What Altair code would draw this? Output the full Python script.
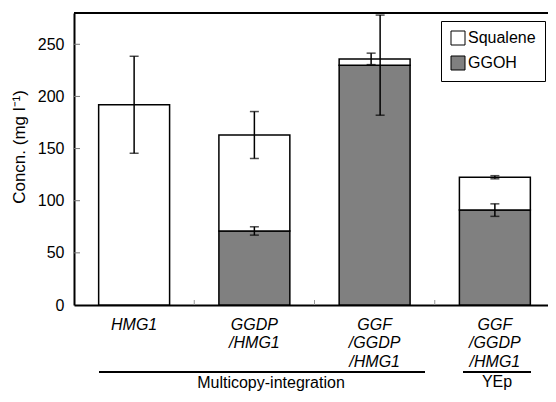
import altair as alt
import pandas as pd

# ---- data ----
categories = ["HMG1", "GGDP/HMG1", "GGF/GGDP/HMG1", "GGF/GGDP/HMG1 (YEp)"]
label_lines = [["HMG1"], ["GGDP", "/HMG1"], ["GGF", "/GGDP", "/HMG1"], ["GGF", "/GGDP", "/HMG1"]]
ggoh = [0, 71, 230, 91]
squalene = [192, 92, 6, 31.5]
total_err = [46.5, 22.5, 5.5, 1.5]
ggoh_err = [0, 4, 48, 6]
y_ticks = [0, 50, 100, 150, 200, 250]
y_title = "Concn. (mg l⁻¹)"
components = ["Squalene", "GGOH"]
colors = ["white", "#808080"]
groups = ["Multicopy-integration", "YEp"]

FONT = "Liberation Sans"

# ---- tables ----
bar_rows = []
for c, g, s in zip(categories, ggoh, squalene):
    if g > 0:
        bar_rows.append({"cat": c, "comp": "GGOH", "y0": 0, "y1": g})
    bar_rows.append({"cat": c, "comp": "Squalene", "y0": g, "y1": g + s})
bars_df = pd.DataFrame(bar_rows)

err_rows = []
for c, g, s, te, ge in zip(categories, ggoh, squalene, total_err, ggoh_err):
    err_rows.append({"cat": c, "kind": "total", "lo": g + s - te, "hi": g + s + te})
    if ge > 0:
        err_rows.append({"cat": c, "kind": "ggoh", "lo": g - ge, "hi": g + ge})
err_df = pd.DataFrame(err_rows)

label_expr = " : ".join(
    f"datum.value == '{c}' ? {lines!r}" for c, lines in zip(categories, label_lines)
) + " : datum.value"

PLOT_W, PLOT_H = 474, 292
x_scale = alt.Scale(domain=categories, paddingInner=0, paddingOuter=0, range=[0, 481])
y_scale = alt.Scale(domain=[0, 280], nice=False)

x_enc = alt.X(
    "cat:N", scale=x_scale, sort=categories, title=None,
    axis=alt.Axis(
        labelExpr=label_expr, labelAngle=0, labelFontStyle="italic",
        labelPadding=11, labelLineHeight=18.5, ticks=False,
        labelFont=FONT, labelFontSize=16, labelColor="black",
        domainColor="black", domainWidth=2,
    ),
)
y_enc = alt.Y(
    "y0:Q", scale=y_scale, title=None,
    axis=alt.Axis(
        values=y_ticks, grid=False, ticks=False, labelPadding=10,
        labelFont=FONT, labelFontSize=16, labelColor="black",
        domainColor="black", domainWidth=2,
    ),
)

bars = alt.Chart(bars_df).mark_bar(
    width={"band": 0.59}, stroke="black", strokeWidth=1.5
).encode(
    x=x_enc,
    y=y_enc,
    y2="y1:Q",
    fill=alt.Fill(
        "comp:N", scale=alt.Scale(domain=components, range=colors), title=None,
        legend=alt.Legend(
            orient="none", legendX=367, legendY=8, fillColor="white",
            strokeColor="black", padding=9, symbolType="square", symbolSize=196,
            symbolStrokeColor="black", symbolStrokeWidth=1, labelFont=FONT,
            labelFontSize=16, labelColor="black", labelOffset=2, rowPadding=7,
            cornerRadius=0,
        ),
    ),
)

x_plain = alt.X("cat:N", scale=x_scale, sort=categories, title=None)


def err_layers(df, offset):
    base = alt.Chart(df)
    rule = base.mark_rule(color="black", strokeWidth=1.5, xOffset=offset).encode(
        x=x_plain, y=alt.Y("lo:Q", scale=y_scale, title=None), y2="hi:Q",
    )
    cap_lo = base.mark_tick(color="black", thickness=1.5, size=9, xOffset=offset).encode(
        x=x_plain, y=alt.Y("lo:Q", scale=y_scale, title=None),
    )
    cap_hi = base.mark_tick(color="black", thickness=1.5, size=9, xOffset=offset).encode(
        x=x_plain, y=alt.Y("hi:Q", scale=y_scale, title=None),
    )
    return [rule, cap_lo, cap_hi]


special = categories[2]
err_main = err_df[err_df["cat"] != special]
err_tot_sp = err_df[(err_df["cat"] == special) & (err_df["kind"] == "total")]
err_gg_sp = err_df[(err_df["cat"] == special) & (err_df["kind"] == "ggoh")]

errs = err_layers(err_main, 0) + err_layers(err_tot_sp, -3.5) + err_layers(err_gg_sp, 5.5)

# inward tick marks
xt = alt.Chart(pd.DataFrame({"cat": categories[1:]})).mark_rule(
    color="#999999", strokeWidth=1
).encode(
    x=alt.X("cat:N", scale=x_scale, sort=categories, bandPosition=0, title=None),
    y=alt.value(PLOT_H), y2=alt.value(PLOT_H - 5),
)
yt = alt.Chart(pd.DataFrame({"v": y_ticks[1:]})).mark_rule(
    color="#777777", strokeWidth=1
).encode(
    y=alt.Y("v:Q", scale=y_scale, title=None), x=alt.value(0), x2=alt.value(6),
)

# frame top line (the right edge sits at the window edge)
top_line = alt.Chart(pd.DataFrame({"a": [0]})).mark_rule(color="black", strokeWidth=2).encode(
    x=alt.value(0), x2=alt.value(481), y=alt.value(0)
)

# y-axis title
ytitle = alt.Chart(pd.DataFrame({"a": [0]})).mark_text(
    font=FONT, fontSize=17, color="black", angle=270, align="center",
    baseline="middle", text=y_title,
).encode(x=alt.value(-54), y=alt.value(134))

# group brackets and labels below the axis
br1 = alt.Chart(pd.DataFrame({"a": [0]})).mark_rule(color="black", strokeWidth=2).encode(
    x=alt.value(25), x2=alt.value(351), y=alt.value(359)
)
br2 = alt.Chart(pd.DataFrame({"a": [0]})).mark_rule(color="black", strokeWidth=2).encode(
    x=alt.value(389), x2=alt.value(457), y=alt.value(359)
)
t1 = alt.Chart(pd.DataFrame({"a": [0]})).mark_text(
    font=FONT, fontSize=16, color="black", baseline="alphabetic", align="center", text=groups[0]
).encode(x=alt.value(197), y=alt.value(375))
t2 = alt.Chart(pd.DataFrame({"a": [0]})).mark_text(
    font=FONT, fontSize=16, color="black", baseline="alphabetic", align="center", text=groups[1]
).encode(x=alt.value(423), y=alt.value(374))

chart = alt.layer(bars, *errs, xt, yt, top_line, ytitle, br1, br2, t1, t2).properties(
    width=PLOT_W, height=PLOT_H, background="white",
    autosize=alt.AutoSizeParams(type="none"),
    padding={"left": 66, "top": 5, "right": 0, "bottom": 86},
).configure_view(
    strokeWidth=0
).configure_axis(
    labelFont=FONT, labelFontSize=16, labelColor="black",
    domainColor="black", domainWidth=2,
)

chart.save("out.html", embed_options={"renderer": "svg", "actions": False})
